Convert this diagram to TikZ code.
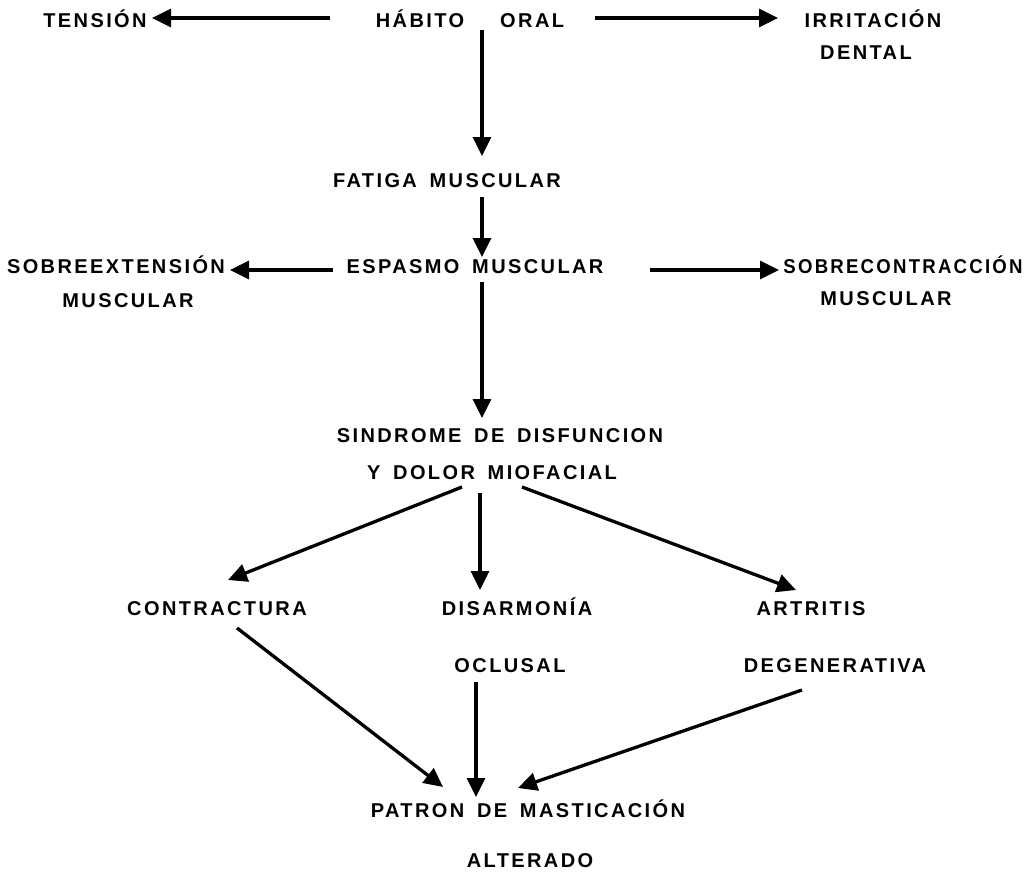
\documentclass[tikz,border=0pt]{standalone}
\usepackage{fontspec}
\usetikzlibrary{arrows.meta}
\newfontfamily\lblfamily{Liberation Sans}[LetterSpace=12, WordSpace=1.6]
\tikzset{
  lbl/.style={inner sep=0pt, text height=14.5pt, text depth=0pt,
    font=\lblfamily\bfseries\fontsize{20pt}{20pt}\selectfont},
  arr/.style={line width=3.3pt, -{Triangle[length=19pt,width=18pt]}}
}
\begin{document}
\begin{tikzpicture}[x=1pt,y=-1pt]
\useasboundingbox (0,0) rectangle (1033,876);
% row 1
\node[lbl] (ten) at (95,20) {TENSIÓN};
\node[lbl] (hab) at (470,20) {HÁBITO\hspace{36pt}ORAL};
\node[lbl] (irr) at (873,20) {IRRITACIÓN};
\node[lbl] (irr2) at (866,52) {DENTAL};
% row 2
\node[lbl] (fat) at (447,180) {FATIGA MUSCULAR};
% row 3
\node[lbl] (sob) at (116,266) {SOBREEXTENSIÓN};
\node[lbl] (sob2) at (128,300) {MUSCULAR};
\node[lbl] (esp) at (475,266) {ESPASMO MUSCULAR};
\node[lbl] (soc) at (903,266) {\scalebox{0.93}[1]{SOBRECONTRACCIÓN}};
\node[lbl] (soc2) at (886,298) {MUSCULAR};
% row 4
\node[lbl] (sin) at (500,435) {SINDROME DE DISFUNCION};
\node[lbl] (sin2) at (492,472) {Y DOLOR MIOFACIAL};
% row 5
\node[lbl] (con) at (217,608) {CONTRACTURA};
\node[lbl] (dis) at (517,608) {DISARMONÍA};
\node[lbl] (dis2) at (510,665) {OCLUSAL};
\node[lbl] (art) at (811,608) {ARTRITIS};
\node[lbl] (art2) at (835,665) {DEGENERATIVA};
% row 6
\node[lbl] (pat) at (528,810) {PATRON DE MASTICACIÓN};
\node[lbl] (pat2) at (530,860) {ALTERADO};
% connectors
\draw[arr] ([shift={(-140,-2)}]hab.center) -- ([shift={(57,-2)}]ten.center);
\draw[arr] ([shift={(125,-2)}]hab.center) -- ([shift={(-95,-2)}]irr.center);
\draw[arr] ([shift={(12,10)}]hab.center) -- ([shift={(35,-24)}]fat.center);
\draw[arr] ([shift={(35,17)}]fat.center) -- ([shift={(7,-9)}]esp.center);
\draw[arr] ([shift={(-142,4)}]esp.center) -- ([shift={(114,4)}]sob.center);
\draw[arr] ([shift={(175,4)}]esp.center) -- ([shift={(-124,4)}]soc.center);
\draw[arr] ([shift={(7,16)}]esp.center) -- ([shift={(-18,-17)}]sin.center);
\draw[arr] ([shift={(-30,15)}]sin2.center) -- ([shift={(11,-28)}]con.center);
\draw[arr] ([shift={(-12,21)}]sin2.center) -- ([shift={(-37,-18)}]dis.center);
\draw[arr] ([shift={(30,15)}]sin2.center) -- ([shift={(-15,-18)}]art.center);
\draw[arr] ([shift={(20,20)}]con.center) -- ([shift={(-85,-23)}]pat.center);
\draw[arr] ([shift={(-34,17)}]dis2.center) -- ([shift={(-52,-13)}]pat.center);
\draw[arr] ([shift={(-33,25)}]art2.center) -- ([shift={(-10,-22)}]pat.center);
\end{tikzpicture}
\end{document}
